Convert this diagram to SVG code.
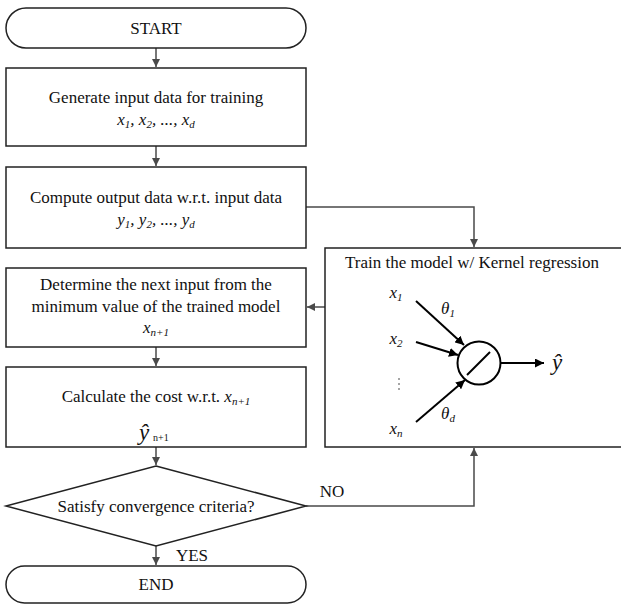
<svg xmlns="http://www.w3.org/2000/svg" width="621" height="606" viewBox="0 0 621 606">
<defs>
<marker id="ah" viewBox="0 0 10 10" refX="10" refY="5" markerWidth="8" markerHeight="8" markerUnits="userSpaceOnUse" orient="auto"><path d="M0,0 L10,5 L0,10 z" fill="#4a4a4a"/></marker>
<marker id="bh" viewBox="0 0 10 10" refX="10" refY="5" markerWidth="9" markerHeight="9" markerUnits="userSpaceOnUse" orient="auto"><path d="M0,0 L10,5 L0,10 z" fill="#000"/></marker>
</defs>
<style>
.box{fill:#fff;stroke:#222;stroke-width:1.5}
.t{font-family:"Liberation Serif","Times New Roman",serif;font-size:17px;fill:#111;text-anchor:middle}
.i{font-style:italic}
.s{text-anchor:start}
.big{font-size:23px}
.sm{font-size:10px}
.c{fill:none;stroke:#4a4a4a;stroke-width:1.5}
.n{fill:none;stroke:#000;stroke-width:2}
</style>
<rect width="621" height="606" fill="#fff"/>
<g id="connectors">
<path class="c" d="M156,48 V67" marker-end="url(#ah)"/>
<path class="c" d="M156,146 V166" marker-end="url(#ah)"/>
<path class="c" d="M306,207 H474 V247" marker-end="url(#ah)"/>
<path class="c" d="M325,307 H307" marker-end="url(#ah)"/>
<path class="c" d="M156,347 V366" marker-end="url(#ah)"/>
<path class="c" d="M156,447 V465" marker-end="url(#ah)"/>
<path class="c" d="M306,506 H474 V448" marker-end="url(#ah)"/>
<path class="c" d="M156,546 V565" marker-end="url(#ah)"/>
<text class="t" x="332" y="497">NO</text>
<text class="t" x="192" y="561">YES</text>
</g>
<g id="start">
<rect class="box" x="6" y="8" width="300" height="40" rx="20"/>
<text class="t" x="156" y="34">START</text>
</g>
<g id="generate">
<rect class="box" x="6" y="68" width="300" height="78"/>
<text class="t" x="156" y="103">Generate input data for training</text>
<text class="t i" x="156" y="125">x<tspan font-size="11" dy="3">1</tspan><tspan dy="-3">, x</tspan><tspan font-size="11" dy="3">2</tspan><tspan dy="-3">, ..., x</tspan><tspan font-size="11" dy="3">d</tspan></text>
</g>
<g id="compute">
<rect class="box" x="6" y="167" width="300" height="81"/>
<text class="t" x="156" y="203">Compute output data w.r.t. input data</text>
<text class="t i" x="156" y="225">y<tspan font-size="11" dy="3">1</tspan><tspan dy="-3">, y</tspan><tspan font-size="11" dy="3">2</tspan><tspan dy="-3">, ..., y</tspan><tspan font-size="11" dy="3">d</tspan></text>
</g>
<g id="determine">
<rect class="box" x="6" y="268" width="300" height="79"/>
<text class="t" x="156" y="290">Determine the next input from the</text>
<text class="t" x="156" y="312">minimum value of the trained model</text>
<text class="t i" x="156" y="333">x<tspan font-size="11" dy="3">n+1</tspan></text>
</g>
<g id="calculate">
<rect class="box" x="6" y="367" width="300" height="80"/>
<text class="t" x="156" y="402">Calculate the cost w.r.t. <tspan font-style="italic">x</tspan><tspan font-style="italic" font-size="11" dy="3">n+1</tspan></text>
<text class="t i s big" x="139" y="440">ŷ</text>
<text class="t s sm" x="153" y="441">n+1</text>
</g>
<g id="decision">
<polygon class="box" points="156,466 306,506 156,546 6,506"/>
<text class="t" x="156" y="512">Satisfy convergence criteria?</text>
</g>
<g id="end">
<rect class="box" x="6" y="566" width="300" height="37" rx="18.5"/>
<text class="t" x="156" y="590">END</text>
</g>
<g id="train">
<rect class="box" x="325" y="248" width="300" height="199"/>
<text class="t" x="472" y="268">Train the model w/ Kernel regression</text>
<text class="t i" x="396" y="298">x<tspan font-size="11" dy="3">1</tspan></text>
<text class="t i" x="396" y="344">x<tspan font-size="11" dy="3">2</tspan></text>
<text class="t i" x="396" y="434">x<tspan font-size="11" dy="3">n</tspan></text>
<text class="t i" x="448" y="314">θ<tspan font-size="11" dy="3">1</tspan></text>
<text class="t i" x="448" y="419">θ<tspan font-size="11" dy="3">d</tspan></text>
<g fill="#333"><circle cx="399" cy="379" r="0.8"/><circle cx="399" cy="384" r="0.8"/><circle cx="399" cy="389" r="0.8"/></g>
<path class="n" d="M416,301 L464,345" marker-end="url(#bh)"/>
<path class="n" d="M416,342 L458,355" marker-end="url(#bh)"/>
<path class="n" d="M416,422 L465,380" marker-end="url(#bh)"/>
<circle class="n" cx="479" cy="363" r="21.5"/>
<path class="n" d="M467,375 L490,352"/>
<path class="n" d="M501,363 L544,363" marker-end="url(#bh)"/>
<text class="t i big" x="557" y="370">ŷ</text>
</g>
</svg>
